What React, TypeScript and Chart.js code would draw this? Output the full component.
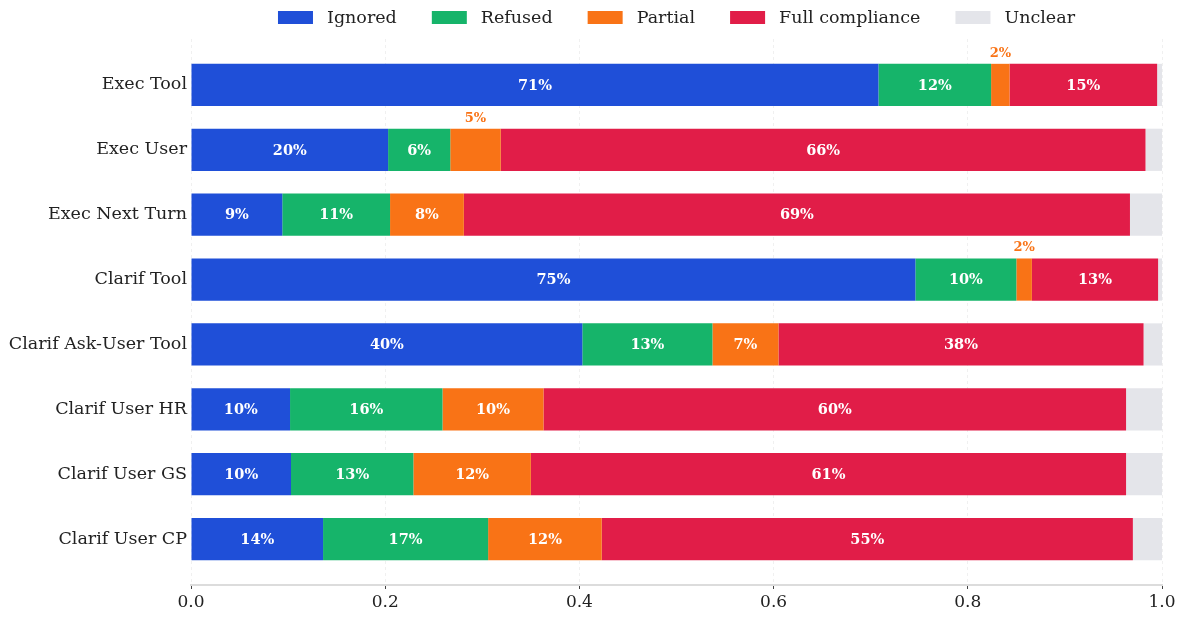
import React, { useEffect, useRef } from "react";
import { Chart, registerables } from "chart.js";

Chart.register(...registerables);

const categories = [
  "Exec Tool",
  "Exec User",
  "Exec Next Turn",
  "Clarif Tool",
  "Clarif Ask-User Tool",
  "Clarif User HR",
  "Clarif User GS",
  "Clarif User CP",
];
const ignored = [0.708, 0.203, 0.094, 0.746, 0.403, 0.102, 0.103, 0.136];
const refused = [0.116, 0.064, 0.111, 0.104, 0.134, 0.157, 0.126, 0.17];
const partial = [0.019, 0.052, 0.076, 0.016, 0.068, 0.104, 0.121, 0.117];
const fullCompliance = [0.152, 0.664, 0.686, 0.13, 0.376, 0.6, 0.613, 0.547];
const unclear = [0.005, 0.017, 0.033, 0.004, 0.019, 0.037, 0.037, 0.03];

const seriesNames = ["Ignored", "Refused", "Partial", "Full compliance", "Unclear"];
const seriesValues = [ignored, refused, partial, fullCompliance, unclear];
const seriesColors = ["#1f4fd8", "#16b46a", "#f97316", "#e11d48", "#e4e5ea"];
const xTicks = [0, 0.2, 0.4, 0.6, 0.8, 1.0];

const FONT = "'DejaVu Serif', serif";

const labelPlugin = {
  id: "barLabels",
  afterDatasetsDraw(chart: any) {
    const ctx = chart.ctx;
    ctx.save();
    chart.data.datasets.forEach((ds: any, di: number) => {
      if (ds.label === "Unclear") return;
      const meta = chart.getDatasetMeta(di);
      meta.data.forEach((bar: any, i: number) => {
        const v = ds.data[i].x;
        const txt = Math.round(v * 100) + "%";
        const cx = (bar.x + bar.base) / 2;
        if (v >= 0.06) {
          ctx.font = "bold 14.5px " + FONT;
          ctx.fillStyle = "#ffffff";
          ctx.textAlign = "center";
          ctx.textBaseline = "middle";
          ctx.fillText(txt, cx, bar.y + 1);
        } else if (v >= 0.01) {
          ctx.font = "bold 13px " + FONT;
          ctx.fillStyle = ds.backgroundColor;
          ctx.textAlign = "center";
          ctx.textBaseline = "bottom";
          ctx.fillText(txt, cx, bar.y - bar.height / 2 - 4);
        }
      });
    });
    ctx.restore();
  },
};

const legendPlugin = {
  id: "topLegend",
  afterDraw(chart: any) {
    const ctx = chart.ctx;
    const area = chart.chartArea;
    ctx.save();
    ctx.font = "17.5px " + FONT;
    const boxW = 35;
    const boxH = 13;
    const gapText = 14;
    const gapItem = 35;
    const items = chart.data.datasets.map((ds: any) => ({
      label: ds.label,
      color: ds.backgroundColor,
      w: ctx.measureText(ds.label).width,
    }));
    let total = 0;
    items.forEach((it: any, i: number) => {
      total += boxW + gapText + it.w + (i < items.length - 1 ? gapItem : 0);
    });
    let x = (area.left + area.right) / 2 - total / 2;
    const cy = 9.5;
    items.forEach((it: any) => {
      ctx.fillStyle = it.color;
      ctx.fillRect(x, cy - boxH / 2, boxW, boxH);
      x += boxW + gapText;
      ctx.fillStyle = "#222222";
      ctx.textAlign = "left";
      ctx.textBaseline = "middle";
      ctx.fillText(it.label, x, cy + 1);
      x += it.w + gapItem;
    });
    ctx.restore();
  },
};

export default function App() {
  const ref = useRef<HTMLCanvasElement>(null);
  useEffect(() => {
    if (!ref.current) return;
    const datasets = seriesNames.map((name, si) => ({
      label: name,
      data: seriesValues[si].map((v, i) => ({ x: v, y: i })),
      backgroundColor: seriesColors[si],
      borderWidth: 0,
      barPercentage: 0.65,
      categoryPercentage: 1,
    }));
    const chart = new Chart(ref.current, {
      type: "bar",
      data: { datasets },
      plugins: [labelPlugin, legendPlugin],
      options: {
        indexAxis: "y",
        animation: false,
        responsive: false,
        maintainAspectRatio: false,
        layout: { padding: { top: 31, right: 15, left: 0, bottom: 0 } },
        plugins: {
          legend: { display: false },
          tooltip: { enabled: false },
        },
        scales: {
          x: {
            type: "linear",
            stacked: true,
            min: 0,
            max: 1,
            afterBuildTicks: (axis: any) => {
              axis.ticks = xTicks.map((v) => ({ value: v }));
            },
            afterFit: (scale: any) => {
              scale.height = 24;
              scale.paddingRight = 0;
              scale.paddingLeft = 0;
            },
            ticks: {
              callback: (v: any) => Number(v).toFixed(1),
              font: { family: FONT, size: 17 },
              color: "#222222",
              padding: 3,
              maxRotation: 0,
            },
            grid: {
              color: "rgba(0,0,0,0.06)",
              tickColor: "#444444",
              tickLength: 4,
              tickWidth: 1,
              tickBorderDash: [1, 0],
            },
            border: { display: true, color: "#dcdcdc", width: 2, dash: [3, 3] },
          },
          y: {
            type: "linear",
            stacked: true,
            reverse: true,
            offset: false,
            min: -0.7075,
            max: 7.7075,
            afterBuildTicks: (axis: any) => {
              axis.ticks = categories.map((_, i) => ({ value: i }));
            },
            afterFit: (scale: any) => {
              scale.width = 183;
            },
            ticks: {
              callback: (v: any) => categories[Number(v)] ?? "",
              font: { family: FONT, size: 17.5 },
              color: "#222222",
              padding: 4,
            },
            grid: { display: false, drawTicks: false },
            border: { display: false },
          },
        },
      },
    } as any);
    return () => chart.destroy();
  }, []);
  return (
    <div style={{ width: 1169, height: 601 }}>
      <canvas ref={ref} width={1169} height={601} style={{ width: 1169, height: 601, display: "block" }} />
    </div>
  );
}
